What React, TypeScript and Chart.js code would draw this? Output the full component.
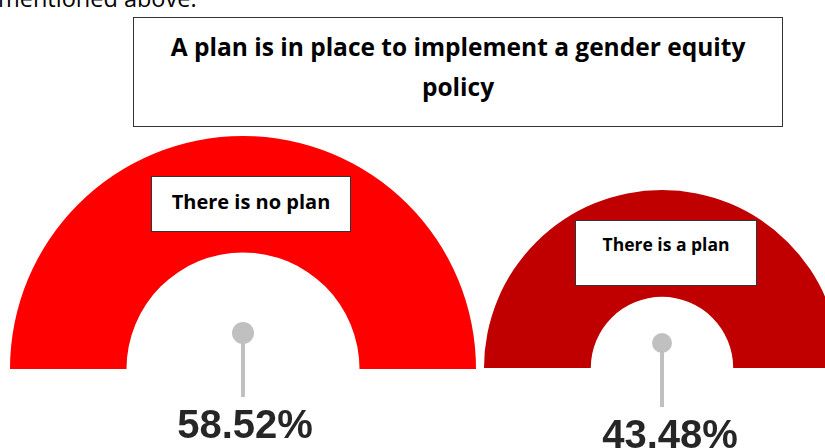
import React, { useEffect, useRef } from "react";
import { Chart, registerables } from "chart.js";

Chart.register(...registerables);

// ---- data ----
const title = ["A plan is in place to implement a gender equity", "policy"];
const categories = ["There is no plan", "There is a plan"];
const values = [58.52, 43.48];
const colors = ["#FF0000", "#C00000"];
const topText = "mentioned above.";

// ---- layout (styles only) ----
const gaugeLayouts = [
  { left: 0, width: 486, pad: { left: 10, right: 10, top: 136, bottom: 79 }, cutout: "50%", pinUp: 36, pinDown: 28, pinR: 11, textDx: 2, textY: 69 },
  { left: 400, width: 524, pad: { left: 84, right: 84, top: 190, bottom: 80 }, cutout: "40%", pinUp: 25, pinDown: 39, pinR: 10, textDx: 8, textY: 80 },
];
const labelBoxes = [
  { left: 151, top: 176, width: 200, height: 56, fontSize: 20, textTop: 13 },
  { left: 575, top: 220, width: 182, height: 66, fontSize: 17.5, textTop: 11 },
];

const pinPlugin = {
  id: "gaugePin",
  afterDraw(chart: any, _args: any, opts: any) {
    const arc = chart.getDatasetMeta(0).data[0];
    if (!arc) return;
    const { x, y } = arc;
    const ctx = chart.ctx;
    ctx.save();
    ctx.strokeStyle = "#C0C0C0";
    ctx.lineWidth = 4;
    ctx.beginPath();
    ctx.moveTo(x, y - opts.pinUp);
    ctx.lineTo(x, y + opts.pinDown);
    ctx.stroke();
    ctx.fillStyle = "#C0C0C0";
    ctx.beginPath();
    ctx.arc(x, y - opts.pinUp, opts.pinR, 0, Math.PI * 2);
    ctx.fill();
    ctx.fillStyle = "#262626";
    ctx.font = "bold 40px 'Liberation Sans', Arial, sans-serif";
    ctx.textAlign = "center";
    ctx.textBaseline = "alphabetic";
    ctx.fillText(opts.label, x + opts.textDx, y + opts.textY);
    ctx.restore();
  },
};

function Gauge({ index }: { index: number }) {
  const ref = useRef<HTMLCanvasElement>(null);
  const lay = gaugeLayouts[index];
  useEffect(() => {
    if (!ref.current) return;
    const chart = new Chart(ref.current, {
      type: "doughnut",
      data: {
        labels: [categories[index]],
        datasets: [
          {
            data: [values[index]],
            backgroundColor: [colors[index]],
            borderWidth: 0,
          },
        ],
      },
      options: {
        responsive: false,
        animation: false,
        rotation: -90,
        circumference: 180,
        cutout: lay.cutout,
        layout: { padding: lay.pad },
        events: [],
        plugins: {
          legend: { display: false },
          tooltip: { enabled: false },
          gaugePin: {
            pinUp: lay.pinUp,
            pinDown: lay.pinDown,
            pinR: lay.pinR,
            textDx: lay.textDx,
            textY: lay.textY,
            label: values[index].toFixed(2) + "%",
          },
        } as any,
      },
      plugins: [pinPlugin],
    });
    return () => chart.destroy();
  }, []);
  return (
    <canvas
      ref={ref}
      width={lay.width}
      height={448}
      style={{ position: "absolute", left: lay.left, top: 0, width: lay.width, height: 448 }}
    />
  );
}

export default function App() {
  const font = "'Open Sans', Lato, sans-serif";
  return (
    <div
      style={{
        position: "fixed",
        left: 0,
        top: 0,
        width: 825,
        height: 448,
        overflow: "hidden",
        background: "#fff",
      }}
    >
      <div
        style={{
          position: "absolute",
          left: -2,
          top: -16,
          fontFamily: font,
          fontSize: 23.5,
          lineHeight: "28px",
          color: "#000",
          whiteSpace: "nowrap",
        }}
      >
        {topText}
      </div>
      <Gauge index={0} />
      <Gauge index={1} />
      <div
        style={{
          position: "absolute",
          left: 133,
          top: 17,
          width: 650,
          height: 110,
          border: "1.5px solid #333",
          boxSizing: "border-box",
          background: "#fff",
          fontFamily: font,
          fontWeight: 700,
          fontSize: 24.5,
          lineHeight: "40px",
          textAlign: "center",
          paddingTop: 9,
          color: "#000",
        }}
      >
        {title[0]}
        <br />
        {title[1]}
      </div>
      {labelBoxes.map((b, i) => (
        <div
          key={i}
          style={{
            position: "absolute",
            left: b.left,
            top: b.top,
            width: b.width,
            height: b.height,
            border: "1.5px solid #333",
            boxSizing: "border-box",
            background: "#fff",
            fontFamily: font,
            fontWeight: 700,
            fontSize: b.fontSize,
            lineHeight: "24px",
            textAlign: "center",
            paddingTop: b.textTop,
            color: "#000",
          }}
        >
          {categories[i]}
        </div>
      ))}
    </div>
  );
}
